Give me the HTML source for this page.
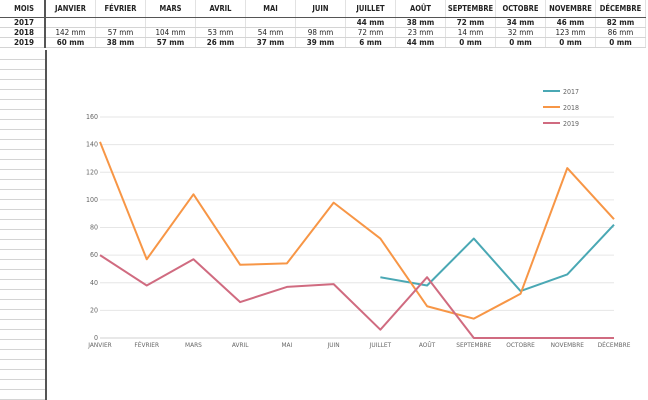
<!DOCTYPE html>
<html><head><meta charset="utf-8"><style>
body{margin:0;width:648px;height:400px;overflow:hidden;background:#fff;font-family:"DejaVu Sans Condensed","Liberation Sans",sans-serif;}
table{position:absolute;left:0;top:0;border-collapse:collapse;font-size:8px;table-layout:fixed}
td{height:9px;padding:0;text-align:center;border-bottom:1px solid #d4d4d4;border-right:1px solid #e2e2e2;width:49px;color:#222;line-height:9px}
td.m{width:34px;text-align:right;padding-right:10px;border-right:2px solid #555}
tr.h td{height:17px;font-weight:bold;font-size:7.5px;border-bottom:1px solid #555}
tr.b td{font-weight:bold}
#left{position:absolute;left:0;top:50px;width:45px;height:350px;border-right:2px solid #555;background:repeating-linear-gradient(#fff 0 9px,#d4d4d4 9px 10px);}
</style></head><body>
<table>
<tr class="h"><td class="m">MOIS</td><td>JANVIER</td><td>FÉVRIER</td><td>MARS</td><td>AVRIL</td><td>MAI</td><td>JUIN</td><td>JUILLET</td><td>AOÛT</td><td>SEPTEMBRE</td><td>OCTOBRE</td><td>NOVEMBRE</td><td>DÉCEMBRE</td></tr>
<tr class="b"><td class="m">2017</td><td></td><td></td><td></td><td></td><td></td><td></td><td>44 mm</td><td>38 mm</td><td>72 mm</td><td>34 mm</td><td>46 mm</td><td>82 mm</td></tr>
<tr><td class="m" style="font-weight:bold">2018</td><td>142 mm</td><td>57 mm</td><td>104 mm</td><td>53 mm</td><td>54 mm</td><td>98 mm</td><td>72 mm</td><td>23 mm</td><td>14 mm</td><td>32 mm</td><td>123 mm</td><td>86 mm</td></tr>
<tr class="b"><td class="m">2019</td><td>60 mm</td><td>38 mm</td><td>57 mm</td><td>26 mm</td><td>37 mm</td><td>39 mm</td><td>6 mm</td><td>44 mm</td><td>0 mm</td><td>0 mm</td><td>0 mm</td><td>0 mm</td></tr>
</table>
<div id="left"></div>
<svg id="c" width="648" height="400" style="position:absolute;left:0;top:0"></svg>
<script>
const months=["JANVIER","FÉVRIER","MARS","AVRIL","MAI","JUIN","JUILLET","AOÛT","SEPTEMBRE","OCTOBRE","NOVEMBRE","DÉCEMBRE"];
const yTicks=[0,20,40,60,80,100,120,140,160];
const s2017=[null,null,null,null,null,null,44,38,72,34,46,82];
const s2018=[142,57,104,53,54,98,72,23,14,32,123,86];
const s2019=[60,38,57,26,37,39,6,44,0,0,0,0];
const seriesNames=["2017","2018","2019"];
const colors=["#4aa8b4","#f79646","#d06b80"];
const svg=document.getElementById('c');const NS="http://www.w3.org/2000/svg";
const x=i=>100+i*(514/11), y=v=>338-v*(221/160);
function mk(t,a,p){const e=document.createElementNS(NS,t);for(const k in a)e.setAttribute(k,a[k]);(p||svg).appendChild(e);return e;}
const bg=mk('rect',{x:47,y:52,width:596,height:348,fill:'#fff'});


yTicks.forEach(v=>{
 const g=mk('line',{x1:100,x2:614,y1:y(v),y2:y(v),stroke:v?'#e6e6e6':'#d0d0d0','stroke-width':1});
 
 
 const t=mk('text',{x:98,y:y(v)+2,'text-anchor':'end','font-size':7,fill:'#666'});t.textContent=v;
 
 
});
months.forEach((m,i)=>{
 const t=mk('text',{x:x(i),y:347,'text-anchor':'middle','font-size':6.5,fill:'#666'});t.textContent=m;
 
 
});
[s2017,s2018,s2019].forEach((s,k)=>{
 let d='';s.forEach((v,i)=>{if(v===null)return;d+=(d?'L':'M')+x(i)+' '+y(v);});
 const p=mk('path',{d:d,fill:'none',stroke:colors[k],'stroke-width':2,'stroke-linejoin':'round'});
 
 
 const ly=91+k*16;
 const l=mk('line',{x1:543,x2:560,y1:ly,y2:ly,stroke:colors[k],'stroke-width':2});
 
 
 const t=mk('text',{x:563,y:ly+3,'font-size':7,fill:'#666'});t.textContent=seriesNames[k];
 
 
});
</script>
</body></html>
